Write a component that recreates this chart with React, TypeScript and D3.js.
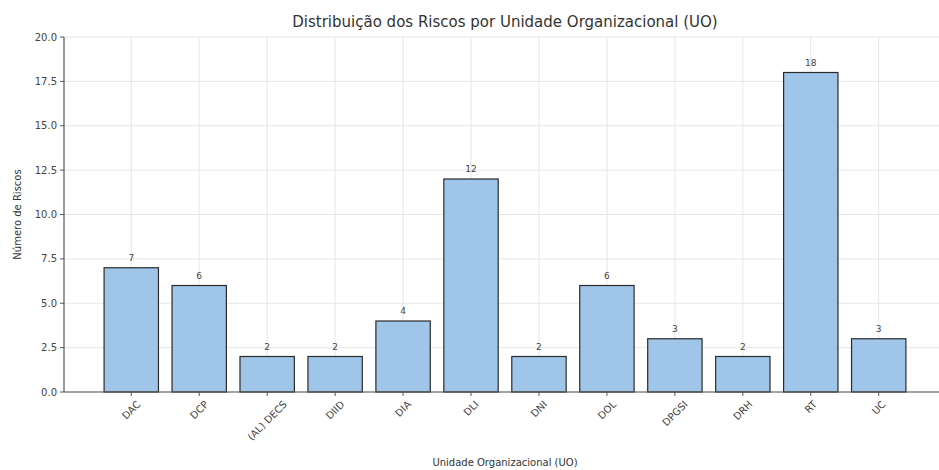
import React, { useEffect, useRef } from "react";
import * as d3 from "d3";

const categories = ["DAC", "DCP", "(AL) DECS", "DIID", "DIA", "DLI", "DNI", "DOL", "DPGSI", "DRH", "RT", "UC"];
const values = [7, 6, 2, 2, 4, 12, 2, 6, 3, 2, 18, 3];
const yTicks = [0, 2.5, 5, 7.5, 10, 12.5, 15, 17.5, 20];
const titleText = "Distribuição dos Riscos por Unidade Organizacional (UO)";
const xLabelText = "Unidade Organizacional (UO)";
const yLabelText = "Número de Riscos";

const W = 939;
const H = 470;

export default function App() {
  const ref = useRef<SVGSVGElement | null>(null);
  useEffect(() => {
    const svg = d3.select(ref.current);
    svg.selectAll("*").remove();
    const left = 64, right = 946, top = 37, bottom = 392;
    const n = categories.length;
    const x = d3.scaleLinear().domain([-0.99, n - 1 + 0.99]).range([left, right]);
    const y = d3.scaleLinear().domain([0, 20]).range([bottom, top]);
    const bw = x(0.4) - x(-0.4);
    const font = "DejaVu Sans, sans-serif";

    svg.append("rect").attr("width", W).attr("height", H).attr("fill", "#fff");

    const g = svg.append("g");
    // grid
    g.selectAll("line.hg").data(yTicks).enter().append("line")
      .attr("x1", left).attr("x2", right).attr("y1", d => y(d)).attr("y2", d => y(d))
      .attr("stroke", "#e6e6e6").attr("stroke-width", 1);
    g.selectAll("line.vg").data(categories).enter().append("line")
      .attr("x1", (_, i) => x(i)).attr("x2", (_, i) => x(i)).attr("y1", top).attr("y2", bottom)
      .attr("stroke", "#e6e6e6").attr("stroke-width", 1);

    // bars
    g.selectAll("rect.bar").data(values).enter().append("rect")
      .attr("x", (_, i) => x(i) - bw / 2).attr("width", bw)
      .attr("y", d => y(d)).attr("height", d => bottom - y(d))
      .attr("fill", "#9fc5e8").attr("stroke", "#2b2b2b").attr("stroke-width", 1.2);

    // value labels
    g.selectAll("text.val").data(values).enter().append("text")
      .attr("x", (_, i) => x(i)).attr("y", d => y(d) - 7)
      .attr("text-anchor", "middle").attr("font-family", font).attr("font-size", 9)
      .attr("fill", "#444").text(d => String(d));

    // spines
    g.append("line").attr("x1", left).attr("x2", left).attr("y1", top).attr("y2", bottom)
      .attr("stroke", "#555").attr("stroke-width", 1.2);
    g.append("line").attr("x1", left).attr("x2", right).attr("y1", bottom).attr("y2", bottom)
      .attr("stroke", "#555").attr("stroke-width", 1.2);

    // y ticks
    yTicks.forEach(t => {
      g.append("line").attr("x1", left - 4).attr("x2", left).attr("y1", y(t)).attr("y2", y(t))
        .attr("stroke", "#555");
      g.append("text").attr("x", left - 7).attr("y", y(t)).attr("dy", "0.35em")
        .attr("text-anchor", "end").attr("font-family", font).attr("font-size", 10)
        .attr("fill", "#444").text(d3.format(".1f")(t));
    });

    // x ticks
    categories.forEach((c, i) => {
      const cx = x(i);
      g.append("line").attr("x1", cx).attr("x2", cx).attr("y1", bottom).attr("y2", bottom + 4)
        .attr("stroke", "#555");
      const t = g.append("text").attr("font-family", font).attr("font-size", 10)
        .attr("fill", "#444").attr("text-anchor", "middle").attr("dominant-baseline", "central").text(c);
      const w = (t.node() as SVGTextElement).getComputedTextLength();
      const h = 10;
      const bh = (w + h) * Math.SQRT1_2;
      const cy = bottom + 7 + bh / 2;
      t.attr("transform", `translate(${cx},${cy}) rotate(-45)`);
    });

    // title
    svg.append("text").attr("x", (left + right) / 2).attr("y", 27).attr("text-anchor", "middle")
      .attr("font-family", font).attr("font-size", 15).attr("fill", "#333").text(titleText);
    svg.append("text").attr("x", (left + right) / 2).attr("y", 466).attr("text-anchor", "middle")
      .attr("font-family", font).attr("font-size", 10).attr("fill", "#333").text(xLabelText);
    svg.append("text").attr("transform", `translate(21,${(top + bottom) / 2}) rotate(-90)`)
      .attr("text-anchor", "middle")
      .attr("font-family", font).attr("font-size", 10).attr("fill", "#333").text(yLabelText);
  }, []);
  return (
    <svg ref={ref} width={W} height={H} style={{ position: "absolute", left: 0, top: 0, display: "block" }} />
  );
}
